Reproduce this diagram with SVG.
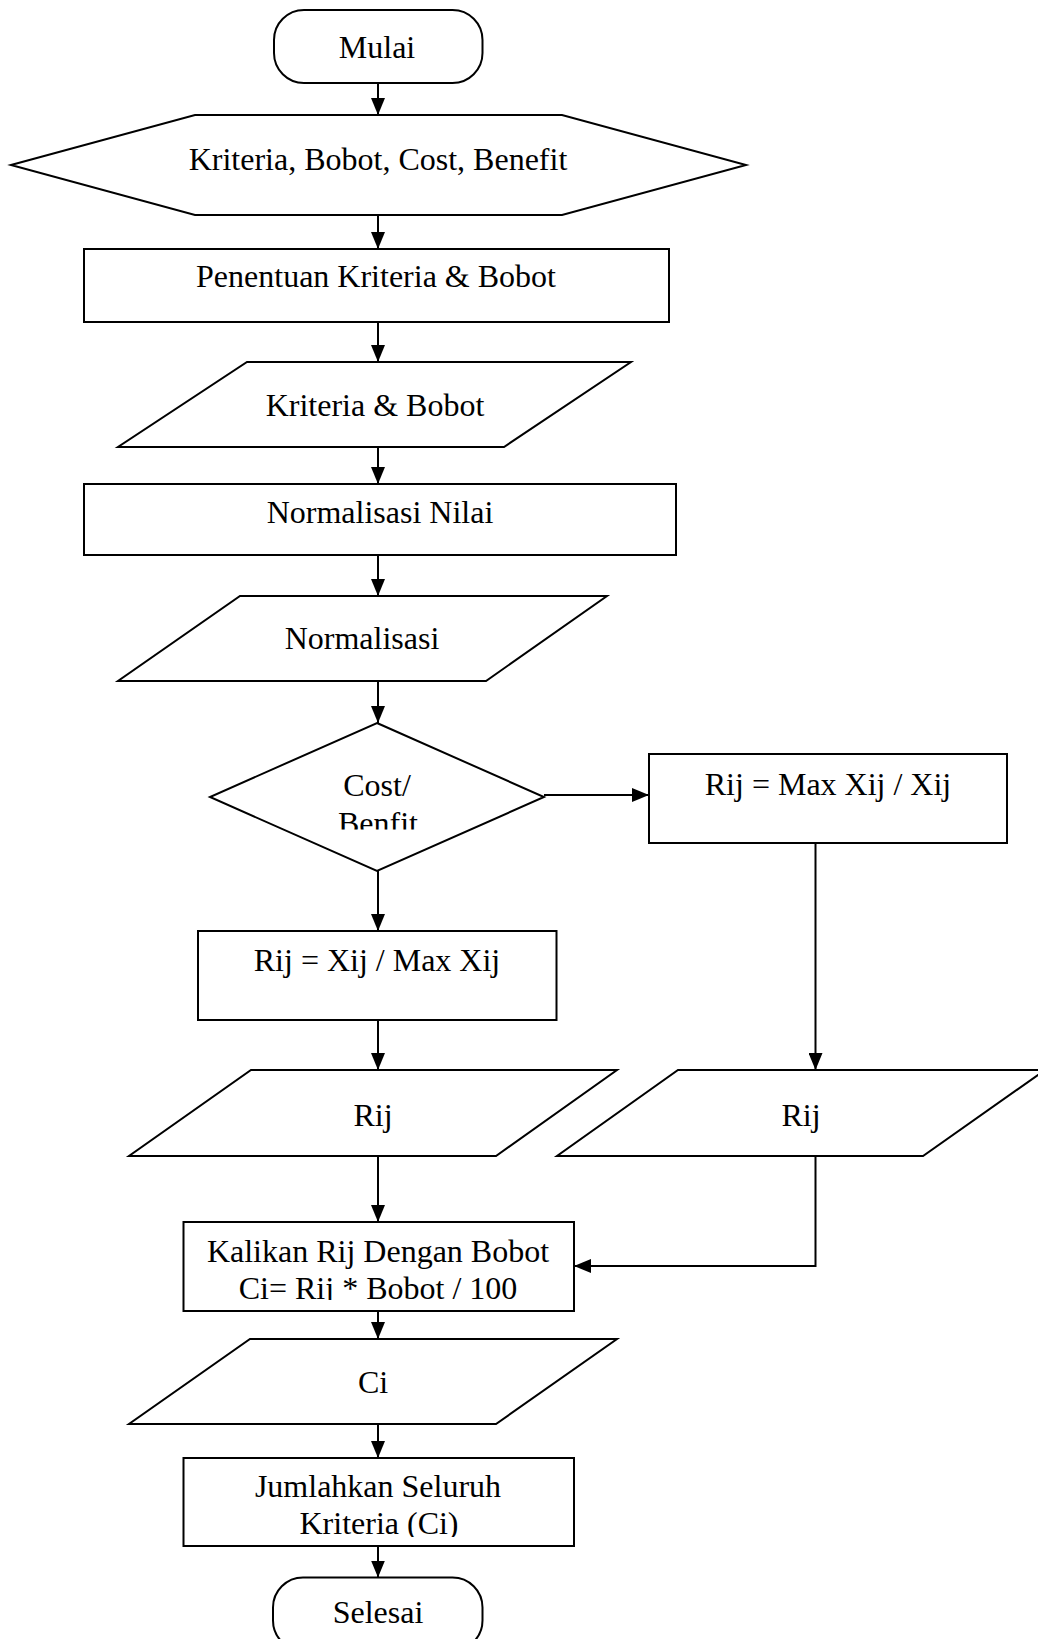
<svg xmlns="http://www.w3.org/2000/svg" width="1038" height="1639" viewBox="0 0 1038 1639">
  <style>
    .shape { fill: #ffffff; stroke: #000000; stroke-width: 2; }
    .label { font-family: "Liberation Serif", "Times New Roman", serif; font-size: 32px; fill: #000000; text-anchor: middle; }
    .edge { fill: none; stroke: #000000; stroke-width: 2; }
  </style>
  <defs>
    <marker id="arrow" markerUnits="userSpaceOnUse" markerWidth="17" markerHeight="14" refX="17" refY="7" orient="auto">
      <path d="M0,0 L17,7 L0,14 z" fill="#000000"/>
    </marker>
    <!-- text boxes that cut off their last line -->
    <clipPath id="clip-decision"><rect x="200" y="760" width="360" height="69.5"/></clipPath>
    <clipPath id="clip-multiply"><rect x="184" y="1225" width="390" height="75"/></clipPath>
    <clipPath id="clip-sum"><rect x="184" y="1460" width="390" height="77"/></clipPath>
  </defs>

  <rect width="1038" height="1639" fill="#ffffff"/>

  <!-- connectors -->
  <g id="connectors">
    <line class="edge" x1="378" y1="83" x2="378" y2="115" marker-end="url(#arrow)"/>
    <line class="edge" x1="378" y1="215" x2="378" y2="249" marker-end="url(#arrow)"/>
    <line class="edge" x1="378" y1="322" x2="378" y2="362" marker-end="url(#arrow)"/>
    <line class="edge" x1="378" y1="447" x2="378" y2="484" marker-end="url(#arrow)"/>
    <line class="edge" x1="378" y1="555" x2="378" y2="596" marker-end="url(#arrow)"/>
    <line class="edge" x1="378" y1="681" x2="378" y2="723" marker-end="url(#arrow)"/>
    <line class="edge" x1="378" y1="871" x2="378" y2="931" marker-end="url(#arrow)"/>
    <line class="edge" x1="378" y1="1020" x2="378" y2="1070" marker-end="url(#arrow)"/>
    <line class="edge" x1="378" y1="1156" x2="378" y2="1222" marker-end="url(#arrow)"/>
    <line class="edge" x1="378" y1="1311" x2="378" y2="1339" marker-end="url(#arrow)"/>
    <line class="edge" x1="378" y1="1424" x2="378" y2="1458" marker-end="url(#arrow)"/>
    <line class="edge" x1="378" y1="1546" x2="378" y2="1577.5" marker-end="url(#arrow)"/>
    <line class="edge" x1="544" y1="795" x2="649" y2="795" stroke-width="2.5" marker-end="url(#arrow)"/>
    <line class="edge" x1="815.5" y1="843" x2="815.5" y2="1070" marker-end="url(#arrow)"/>
    <polyline class="edge" points="815.5,1156 815.5,1266 574,1266" stroke-width="2.5" marker-end="url(#arrow)"/>
  </g>

  <g id="start">
    <rect class="shape" x="274" y="10" width="208.5" height="73" rx="30" ry="30"/>
    <text class="label" x="377" y="58">Mulai</text>
  </g>

  <g id="input-criteria">
    <polygon class="shape" points="11,165 195,115 562,115 746,165 562,215 195,215"/>
    <text class="label" x="378" y="170">Kriteria, Bobot, Cost, Benefit</text>
  </g>

  <g id="set-criteria">
    <rect class="shape" x="84" y="249" width="585" height="73"/>
    <text class="label" x="376" y="287">Penentuan Kriteria &amp; Bobot</text>
  </g>

  <g id="data-criteria">
    <polygon class="shape" points="247,362 631,362 504,447 118,447"/>
    <text class="label" x="375" y="416">Kriteria &amp; Bobot</text>
  </g>

  <g id="normalize">
    <rect class="shape" x="84" y="484" width="592" height="71"/>
    <text class="label" x="380" y="523">Normalisasi Nilai</text>
  </g>

  <g id="data-normalized">
    <polygon class="shape" points="240,596 607,596 486,681 118,681"/>
    <text class="label" x="362" y="649">Normalisasi</text>
  </g>

  <g id="decision">
    <polygon class="shape" points="377,723 544,797 377,871 210,797"/>
    <g clip-path="url(#clip-decision)">
      <text class="label" x="377" y="796">Cost/</text>
      <text class="label" x="378" y="834">Benfit</text>
    </g>
  </g>

  <g id="cost-formula">
    <rect class="shape" x="649" y="754" width="358" height="89"/>
    <text class="label" x="828" y="795">Rij = Max Xij / Xij</text>
  </g>

  <g id="benefit-formula">
    <rect class="shape" x="198" y="931" width="358.5" height="89"/>
    <text class="label" x="377" y="971">Rij = Xij / Max Xij</text>
  </g>

  <g id="data-rij-left">
    <polygon class="shape" points="251,1070 617,1070 496,1156 129,1156"/>
    <text class="label" x="373" y="1126">Rij</text>
  </g>

  <g id="data-rij-right">
    <polygon class="shape" points="678,1070 1045,1070 923,1156 557,1156"/>
    <text class="label" x="801" y="1126">Rij</text>
  </g>

  <g id="multiply">
    <rect class="shape" x="183.5" y="1222" width="390.5" height="89"/>
    <g clip-path="url(#clip-multiply)">
      <text class="label" x="378" y="1262">Kalikan Rij Dengan Bobot</text>
      <text class="label" x="378" y="1298.5">Ci= Rij * Bobot / 100</text>
    </g>
  </g>

  <g id="data-ci">
    <polygon class="shape" points="250,1339 617,1339 496,1424 129,1424"/>
    <text class="label" x="373" y="1393">Ci</text>
  </g>

  <g id="sum">
    <rect class="shape" x="183.5" y="1458" width="390.5" height="88"/>
    <g clip-path="url(#clip-sum)">
      <text class="label" x="378" y="1497">Jumlahkan Seluruh</text>
      <text class="label" x="379" y="1534">Kriteria (Ci)</text>
    </g>
  </g>

  <g id="end">
    <rect class="shape" x="273" y="1577.5" width="209.5" height="73" rx="30" ry="30"/>
    <text class="label" x="378" y="1623">Selesai</text>
  </g>
</svg>
